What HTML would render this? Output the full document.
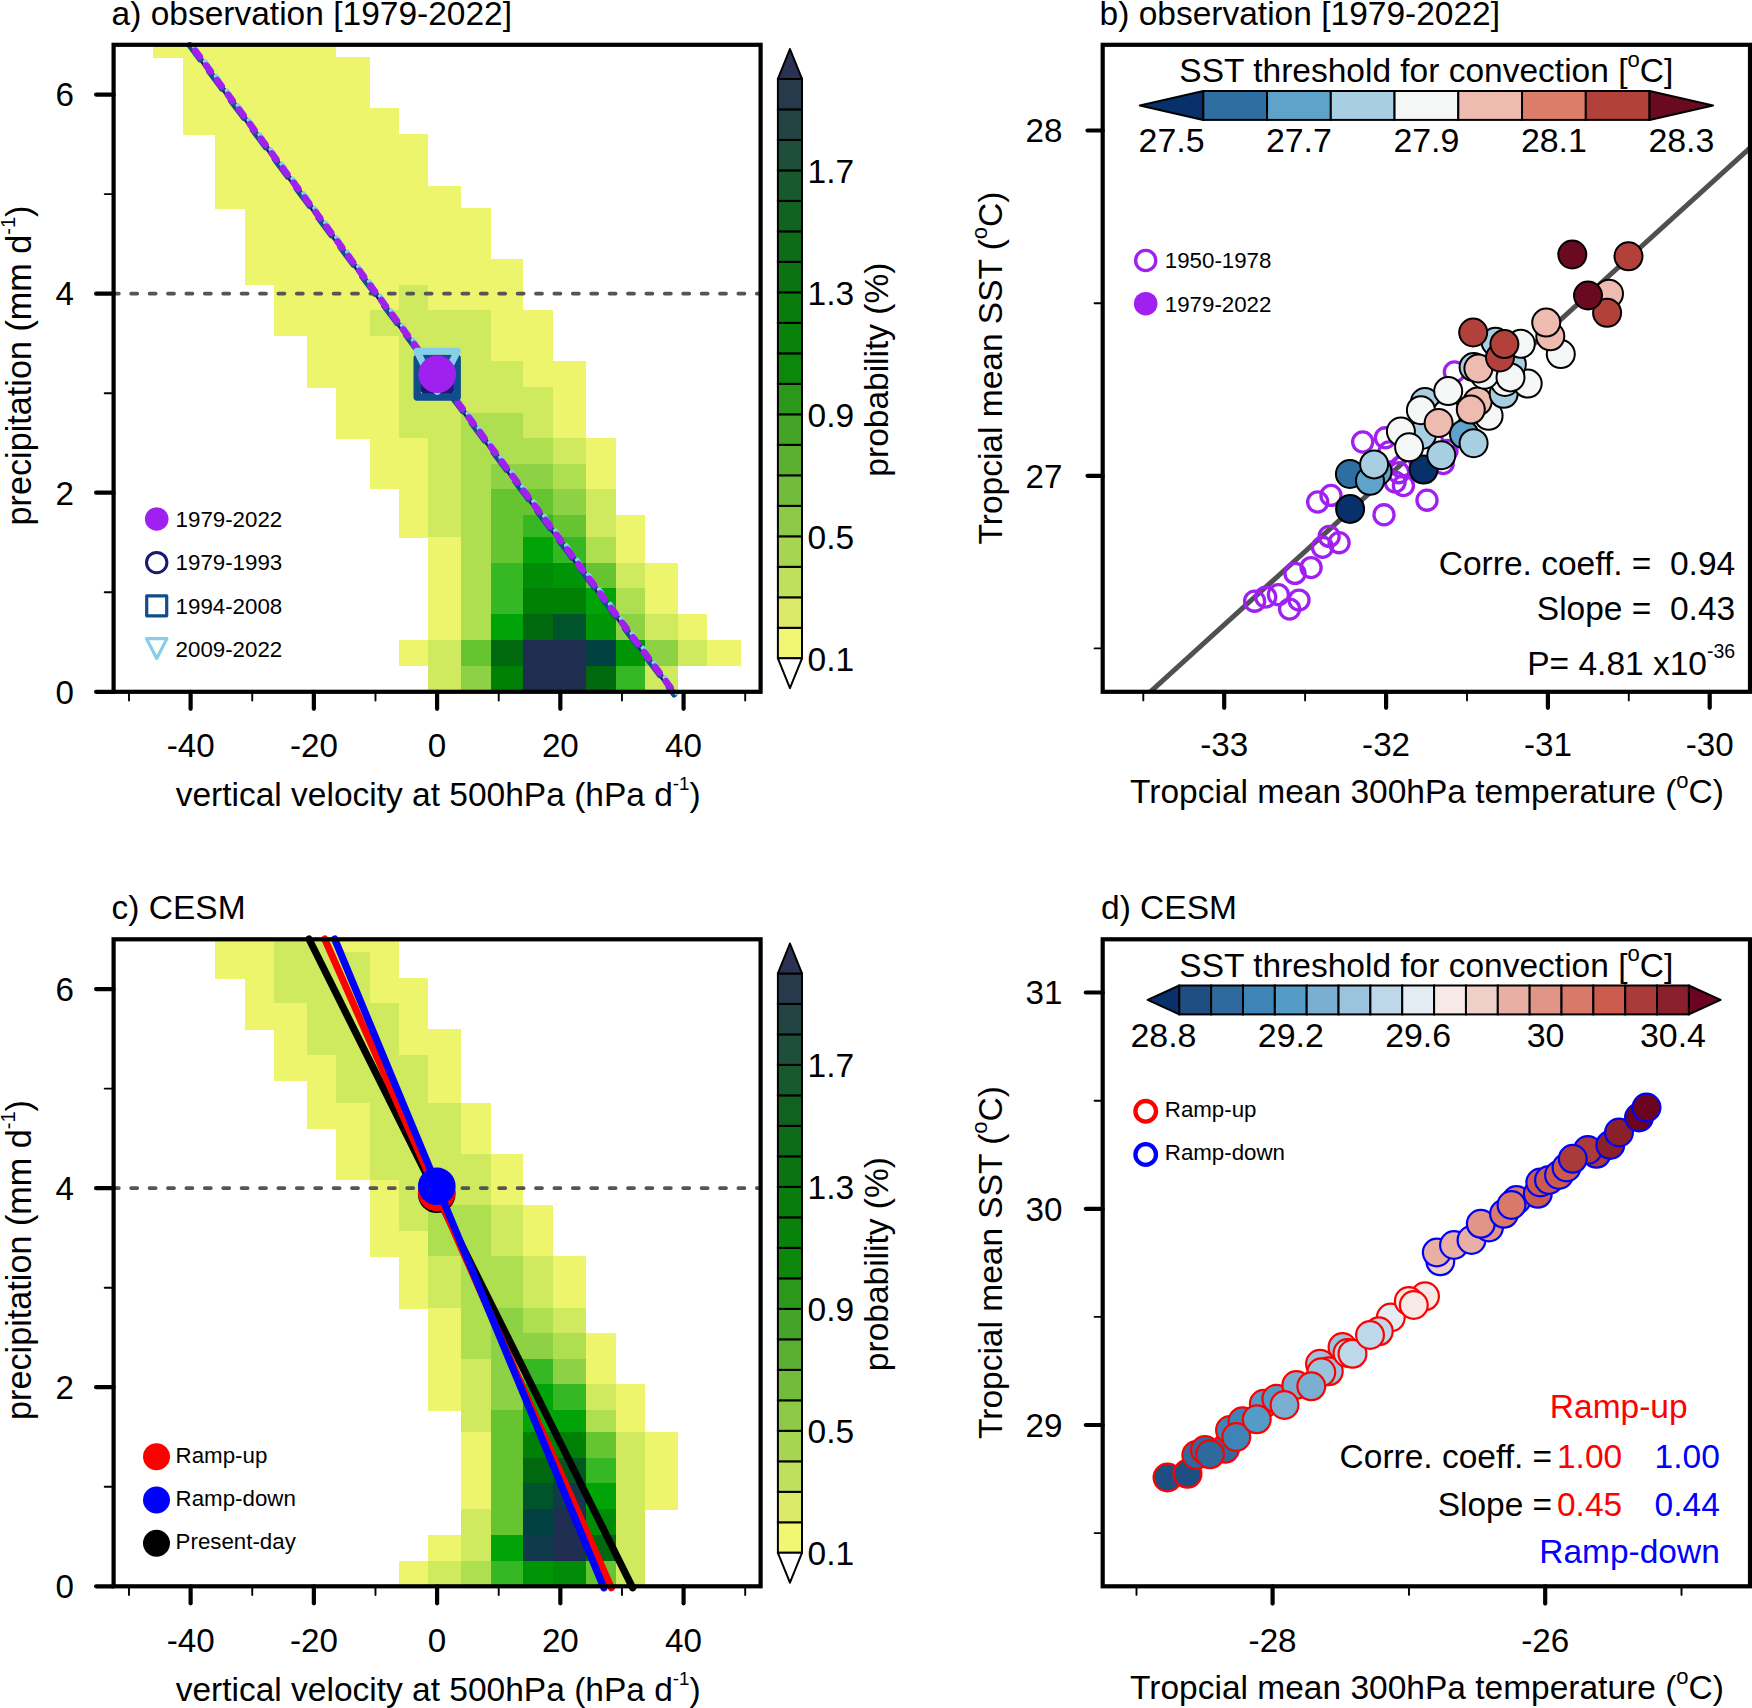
<!DOCTYPE html>
<html lang="en">
<head>
<meta charset="utf-8">
<title>Figure</title>
<style>
html,body{margin:0;padding:0;background:#fff;}
svg{display:block;}
text{font-family:"Liberation Sans", sans-serif;}
</style>
</head>
<body>
<svg width="1752" height="1708" viewBox="0 0 1752 1708">
<rect x="0" y="0" width="1752" height="1708" fill="#fff"/>
<g shape-rendering="crispEdges">
<rect x="152.50" y="45.00" width="183.75" height="12.60" fill="#edf56d"/>
<rect x="182.50" y="57.00" width="187.50" height="26.35" fill="#edf56d"/>
<rect x="182.50" y="82.75" width="187.50" height="25.85" fill="#edf56d"/>
<rect x="182.50" y="108.00" width="216.50" height="26.60" fill="#edf56d"/>
<rect x="215.00" y="134.00" width="213.00" height="26.60" fill="#edf56d"/>
<rect x="215.00" y="160.00" width="213.00" height="26.10" fill="#edf56d"/>
<rect x="215.00" y="185.50" width="246.00" height="23.10" fill="#edf56d"/>
<rect x="245.00" y="208.00" width="245.75" height="25.60" fill="#edf56d"/>
<rect x="245.00" y="233.00" width="245.75" height="26.60" fill="#edf56d"/>
<rect x="245.00" y="259.00" width="278.25" height="26.10" fill="#edf56d"/>
<rect x="274.25" y="284.50" width="124.75" height="26.10" fill="#edf56d"/>
<rect x="399.00" y="284.50" width="29.00" height="26.10" fill="#d0ea5f"/>
<rect x="428.00" y="284.50" width="95.25" height="26.10" fill="#edf56d"/>
<rect x="274.25" y="310.00" width="95.75" height="26.10" fill="#edf56d"/>
<rect x="370.00" y="310.00" width="120.75" height="26.10" fill="#d0ea5f"/>
<rect x="490.75" y="310.00" width="62.25" height="26.10" fill="#edf56d"/>
<rect x="307.00" y="335.50" width="92.00" height="26.10" fill="#edf56d"/>
<rect x="399.00" y="335.50" width="91.75" height="26.10" fill="#d0ea5f"/>
<rect x="490.75" y="335.50" width="62.25" height="26.10" fill="#edf56d"/>
<rect x="307.00" y="361.00" width="92.00" height="26.60" fill="#edf56d"/>
<rect x="399.00" y="361.00" width="124.25" height="26.60" fill="#d0ea5f"/>
<rect x="523.25" y="361.00" width="62.75" height="26.60" fill="#edf56d"/>
<rect x="336.25" y="387.00" width="62.75" height="26.35" fill="#edf56d"/>
<rect x="399.00" y="387.00" width="154.00" height="26.35" fill="#d0ea5f"/>
<rect x="553.00" y="387.00" width="33.00" height="26.35" fill="#edf56d"/>
<rect x="336.25" y="412.75" width="62.75" height="25.85" fill="#edf56d"/>
<rect x="399.00" y="412.75" width="62.00" height="25.85" fill="#d0ea5f"/>
<rect x="461.00" y="412.75" width="62.25" height="25.85" fill="#aedf50"/>
<rect x="523.25" y="412.75" width="29.75" height="25.85" fill="#d0ea5f"/>
<rect x="553.00" y="412.75" width="33.00" height="25.85" fill="#edf56d"/>
<rect x="370.00" y="438.00" width="58.00" height="26.35" fill="#edf56d"/>
<rect x="428.00" y="438.00" width="33.00" height="26.35" fill="#d0ea5f"/>
<rect x="461.00" y="438.00" width="92.00" height="26.35" fill="#aedf50"/>
<rect x="553.00" y="438.00" width="33.00" height="26.35" fill="#d0ea5f"/>
<rect x="586.00" y="438.00" width="29.50" height="26.35" fill="#edf56d"/>
<rect x="370.00" y="463.75" width="58.00" height="25.60" fill="#edf56d"/>
<rect x="428.00" y="463.75" width="33.00" height="25.60" fill="#d0ea5f"/>
<rect x="461.00" y="463.75" width="29.75" height="25.60" fill="#aedf50"/>
<rect x="490.75" y="463.75" width="62.25" height="25.60" fill="#8dd244"/>
<rect x="553.00" y="463.75" width="33.00" height="25.60" fill="#aedf50"/>
<rect x="586.00" y="463.75" width="29.50" height="25.60" fill="#edf56d"/>
<rect x="399.00" y="488.75" width="29.00" height="26.85" fill="#edf56d"/>
<rect x="428.00" y="488.75" width="33.00" height="26.85" fill="#d0ea5f"/>
<rect x="461.00" y="488.75" width="29.75" height="26.85" fill="#aedf50"/>
<rect x="490.75" y="488.75" width="62.25" height="26.85" fill="#66c431"/>
<rect x="553.00" y="488.75" width="33.00" height="26.85" fill="#8dd244"/>
<rect x="586.00" y="488.75" width="29.50" height="26.85" fill="#d0ea5f"/>
<rect x="399.00" y="515.00" width="29.00" height="22.60" fill="#edf56d"/>
<rect x="428.00" y="515.00" width="33.00" height="22.60" fill="#d0ea5f"/>
<rect x="461.00" y="515.00" width="29.75" height="22.60" fill="#aedf50"/>
<rect x="490.75" y="515.00" width="32.50" height="22.60" fill="#66c431"/>
<rect x="523.25" y="515.00" width="29.75" height="22.60" fill="#36b824"/>
<rect x="553.00" y="515.00" width="33.00" height="22.60" fill="#66c431"/>
<rect x="586.00" y="515.00" width="29.50" height="22.60" fill="#d0ea5f"/>
<rect x="615.50" y="515.00" width="29.50" height="22.60" fill="#edf56d"/>
<rect x="428.00" y="537.00" width="33.00" height="26.10" fill="#edf56d"/>
<rect x="461.00" y="537.00" width="29.75" height="26.10" fill="#aedf50"/>
<rect x="490.75" y="537.00" width="32.50" height="26.10" fill="#66c431"/>
<rect x="523.25" y="537.00" width="29.75" height="26.10" fill="#00a409"/>
<rect x="553.00" y="537.00" width="33.00" height="26.10" fill="#36b824"/>
<rect x="586.00" y="537.00" width="29.50" height="26.10" fill="#aedf50"/>
<rect x="615.50" y="537.00" width="29.50" height="26.10" fill="#edf56d"/>
<rect x="428.00" y="562.50" width="33.00" height="26.10" fill="#edf56d"/>
<rect x="461.00" y="562.50" width="29.75" height="26.10" fill="#aedf50"/>
<rect x="490.75" y="562.50" width="32.50" height="26.10" fill="#36b824"/>
<rect x="523.25" y="562.50" width="29.75" height="26.10" fill="#008c07"/>
<rect x="553.00" y="562.50" width="33.00" height="26.10" fill="#009407"/>
<rect x="586.00" y="562.50" width="29.50" height="26.10" fill="#66c431"/>
<rect x="615.50" y="562.50" width="29.50" height="26.10" fill="#d0ea5f"/>
<rect x="645.00" y="562.50" width="33.00" height="26.10" fill="#edf56d"/>
<rect x="428.00" y="588.00" width="33.00" height="26.85" fill="#edf56d"/>
<rect x="461.00" y="588.00" width="29.75" height="26.85" fill="#aedf50"/>
<rect x="490.75" y="588.00" width="32.50" height="26.85" fill="#36b824"/>
<rect x="523.25" y="588.00" width="62.75" height="26.85" fill="#008106"/>
<rect x="586.00" y="588.00" width="29.50" height="26.85" fill="#00a409"/>
<rect x="615.50" y="588.00" width="29.50" height="26.85" fill="#aedf50"/>
<rect x="645.00" y="588.00" width="33.00" height="26.85" fill="#edf56d"/>
<rect x="428.00" y="614.25" width="33.00" height="26.35" fill="#edf56d"/>
<rect x="461.00" y="614.25" width="29.75" height="26.35" fill="#aedf50"/>
<rect x="490.75" y="614.25" width="32.50" height="26.35" fill="#00a409"/>
<rect x="523.25" y="614.25" width="29.75" height="26.35" fill="#00680f"/>
<rect x="553.00" y="614.25" width="33.00" height="26.35" fill="#00542b"/>
<rect x="586.00" y="614.25" width="29.50" height="26.35" fill="#009407"/>
<rect x="615.50" y="614.25" width="29.50" height="26.35" fill="#8dd244"/>
<rect x="645.00" y="614.25" width="33.00" height="26.35" fill="#d0ea5f"/>
<rect x="678.00" y="614.25" width="29.00" height="26.35" fill="#edf56d"/>
<rect x="399.00" y="640.00" width="29.00" height="26.35" fill="#edf56d"/>
<rect x="428.00" y="640.00" width="33.00" height="26.35" fill="#d0ea5f"/>
<rect x="461.00" y="640.00" width="29.75" height="26.35" fill="#66c431"/>
<rect x="490.75" y="640.00" width="32.50" height="26.35" fill="#00680f"/>
<rect x="523.25" y="640.00" width="62.75" height="26.35" fill="#1f2d50"/>
<rect x="586.00" y="640.00" width="29.50" height="26.35" fill="#004041"/>
<rect x="615.50" y="640.00" width="29.50" height="26.35" fill="#009407"/>
<rect x="645.00" y="640.00" width="33.00" height="26.35" fill="#8dd244"/>
<rect x="678.00" y="640.00" width="29.00" height="26.35" fill="#d0ea5f"/>
<rect x="707.00" y="640.00" width="33.75" height="26.35" fill="#edf56d"/>
<rect x="428.00" y="665.75" width="33.00" height="25.85" fill="#d0ea5f"/>
<rect x="461.00" y="665.75" width="29.75" height="25.85" fill="#8dd244"/>
<rect x="490.75" y="665.75" width="32.50" height="25.85" fill="#008106"/>
<rect x="523.25" y="665.75" width="62.75" height="25.85" fill="#1f2d50"/>
<rect x="586.00" y="665.75" width="29.50" height="25.85" fill="#00680f"/>
<rect x="615.50" y="665.75" width="29.50" height="25.85" fill="#36b824"/>
<rect x="645.00" y="665.75" width="33.00" height="25.85" fill="#d0ea5f"/>
</g>
<line x1="112.7" y1="293.64" x2="759.6" y2="293.64" stroke="#555" stroke-width="3.6" stroke-dasharray="6.2 12.2" stroke-linecap="round"/>
<line x1="189.90" y1="44.50" x2="674.90" y2="694.30" stroke="#191970" stroke-width="4.8" stroke-linecap="round"/>
<line x1="189.10" y1="45.10" x2="674.10" y2="694.90" stroke="#104e8b" stroke-width="5.4" stroke-linecap="round" stroke-dasharray="22 14.6" stroke-dashoffset="4"/>
<line x1="191.58" y1="43.24" x2="676.58" y2="693.04" stroke="#87ceeb" stroke-width="4.6" stroke-linecap="round" stroke-dasharray="4.5 13.8" stroke-dashoffset="14.0"/>
<line x1="190.30" y1="44.20" x2="675.30" y2="694.00" stroke="#a020f0" stroke-width="6.8" stroke-linecap="round" stroke-dasharray="7.5 10.8" stroke-dashoffset="10"/>
<circle cx="437.2" cy="377.6" r="17" fill="none" stroke="#191970" stroke-width="9"/>
<rect x="417.2" y="358.20000000000005" width="40" height="38.8" fill="none" stroke="#104e8b" stroke-width="7.4" stroke-linejoin="round"/>
<polygon points="417.0,351.2 457.4,351.2 437.2,391.4" fill="none" stroke="#87ceeb" stroke-width="7" stroke-linejoin="round"/>
<circle cx="437.2" cy="374.3" r="18.8" fill="#a020f0"/>
<rect x="113.6" y="44.8" width="647.0" height="647.0" fill="none" stroke="#000" stroke-width="4.2"/>
<line x1="190.62000000000003" y1="691.8" x2="190.62000000000003" y2="708.8" stroke="#000" stroke-width="4.2" stroke-linecap="round"/>
<line x1="313.86" y1="691.8" x2="313.86" y2="708.8" stroke="#000" stroke-width="4.2" stroke-linecap="round"/>
<line x1="437.1" y1="691.8" x2="437.1" y2="708.8" stroke="#000" stroke-width="4.2" stroke-linecap="round"/>
<line x1="560.34" y1="691.8" x2="560.34" y2="708.8" stroke="#000" stroke-width="4.2" stroke-linecap="round"/>
<line x1="683.58" y1="691.8" x2="683.58" y2="708.8" stroke="#000" stroke-width="4.2" stroke-linecap="round"/>
<line x1="129.0" y1="691.8" x2="129.0" y2="700.5" stroke="#000" stroke-width="1.9" stroke-linecap="round"/>
<line x1="252.24000000000004" y1="691.8" x2="252.24000000000004" y2="700.5" stroke="#000" stroke-width="1.9" stroke-linecap="round"/>
<line x1="375.48" y1="691.8" x2="375.48" y2="700.5" stroke="#000" stroke-width="1.9" stroke-linecap="round"/>
<line x1="498.72" y1="691.8" x2="498.72" y2="700.5" stroke="#000" stroke-width="1.9" stroke-linecap="round"/>
<line x1="621.96" y1="691.8" x2="621.96" y2="700.5" stroke="#000" stroke-width="1.9" stroke-linecap="round"/>
<line x1="745.2" y1="691.8" x2="745.2" y2="700.5" stroke="#000" stroke-width="1.9" stroke-linecap="round"/>
<text x="190.62000000000003" y="757" font-size="33.2" text-anchor="middle" fill="#000" >-40</text>
<text x="313.86" y="757" font-size="33.2" text-anchor="middle" fill="#000" >-20</text>
<text x="437.1" y="757" font-size="33.2" text-anchor="middle" fill="#000" >0</text>
<text x="560.34" y="757" font-size="33.2" text-anchor="middle" fill="#000" >20</text>
<text x="683.58" y="757" font-size="33.2" text-anchor="middle" fill="#000" >40</text>
<line x1="113.6" y1="691.8" x2="96.1" y2="691.8" stroke="#000" stroke-width="4.2" stroke-linecap="round"/>
<line x1="113.6" y1="492.7199999999999" x2="96.1" y2="492.7199999999999" stroke="#000" stroke-width="4.2" stroke-linecap="round"/>
<line x1="113.6" y1="293.63999999999993" x2="96.1" y2="293.63999999999993" stroke="#000" stroke-width="4.2" stroke-linecap="round"/>
<line x1="113.6" y1="94.55999999999995" x2="96.1" y2="94.55999999999995" stroke="#000" stroke-width="4.2" stroke-linecap="round"/>
<line x1="113.6" y1="592.26" x2="104.69999999999999" y2="592.26" stroke="#000" stroke-width="1.9" stroke-linecap="round"/>
<line x1="113.6" y1="393.17999999999995" x2="104.69999999999999" y2="393.17999999999995" stroke="#000" stroke-width="1.9" stroke-linecap="round"/>
<line x1="113.6" y1="194.0999999999999" x2="104.69999999999999" y2="194.0999999999999" stroke="#000" stroke-width="1.9" stroke-linecap="round"/>
<text x="74" y="703.5999999999999" font-size="33.2" text-anchor="end" fill="#000" >0</text>
<text x="74" y="504.5199999999999" font-size="33.2" text-anchor="end" fill="#000" >2</text>
<text x="74" y="305.43999999999994" font-size="33.2" text-anchor="end" fill="#000" >4</text>
<text x="74" y="106.35999999999994" font-size="33.2" text-anchor="end" fill="#000" >6</text>
<text x="111.6" y="24.5" font-size="33.5" text-anchor="start" fill="#000" >a) observation [1979-2022]</text>
<text x="438.2" y="805.8" font-size="33.5" text-anchor="middle" fill="#000" >vertical velocity at 500hPa (hPa d<tspan font-size="18.8" dy="-15.9">-1</tspan><tspan dy="15.9" font-size="33.5">)</tspan></text>
<text transform="translate(31.2,365.5) rotate(-90)" font-size="34.2" text-anchor="middle">precipitation (mm d<tspan font-size="20" dy="-16">-1</tspan><tspan dy="16" font-size="34.2">)</tspan></text>
<rect x="777.9" y="627.81" width="24.100000000000023" height="30.49" fill="#f1f673" stroke="#000" stroke-width="2"/>
<rect x="777.9" y="597.31" width="24.100000000000023" height="30.49" fill="#dcea69" stroke="#000" stroke-width="2"/>
<rect x="777.9" y="566.82" width="24.100000000000023" height="30.49" fill="#bfe05d" stroke="#000" stroke-width="2"/>
<rect x="777.9" y="536.32" width="24.100000000000023" height="30.49" fill="#a6d551" stroke="#000" stroke-width="2"/>
<rect x="777.9" y="505.83" width="24.100000000000023" height="30.49" fill="#8cc946" stroke="#000" stroke-width="2"/>
<rect x="777.9" y="475.33" width="24.100000000000023" height="30.49" fill="#73bc3b" stroke="#000" stroke-width="2"/>
<rect x="777.9" y="444.84" width="24.100000000000023" height="30.49" fill="#5bb031" stroke="#000" stroke-width="2"/>
<rect x="777.9" y="414.34" width="24.100000000000023" height="30.49" fill="#43a427" stroke="#000" stroke-width="2"/>
<rect x="777.9" y="383.85" width="24.100000000000023" height="30.49" fill="#2b981c" stroke="#000" stroke-width="2"/>
<rect x="777.9" y="353.35" width="24.100000000000023" height="30.49" fill="#0c870c" stroke="#000" stroke-width="2"/>
<rect x="777.9" y="322.86" width="24.100000000000023" height="30.49" fill="#08820a" stroke="#000" stroke-width="2"/>
<rect x="777.9" y="292.36" width="24.100000000000023" height="30.49" fill="#0a7c0e" stroke="#000" stroke-width="2"/>
<rect x="777.9" y="261.87" width="24.100000000000023" height="30.49" fill="#0c7312" stroke="#000" stroke-width="2"/>
<rect x="777.9" y="231.37" width="24.100000000000023" height="30.49" fill="#0e6b17" stroke="#000" stroke-width="2"/>
<rect x="777.9" y="200.88" width="24.100000000000023" height="30.49" fill="#12621f" stroke="#000" stroke-width="2"/>
<rect x="777.9" y="170.38" width="24.100000000000023" height="30.49" fill="#175a2b" stroke="#000" stroke-width="2"/>
<rect x="777.9" y="139.89" width="24.100000000000023" height="30.49" fill="#1d4f3a" stroke="#000" stroke-width="2"/>
<rect x="777.9" y="109.39" width="24.100000000000023" height="30.49" fill="#224544" stroke="#000" stroke-width="2"/>
<rect x="777.9" y="78.90" width="24.100000000000023" height="30.49" fill="#263a4b" stroke="#000" stroke-width="2"/>
<polygon points="777.9,78.9 802.0,78.9 789.95,49.00000000000001" fill="#2a3253" stroke="#000" stroke-width="2" stroke-linejoin="round"/>
<polygon points="777.9,658.3 802.0,658.3 789.95,688.1999999999999" fill="#fff" stroke="#000" stroke-width="2" stroke-linejoin="round"/>
<text x="807.6" y="670.50" font-size="33.5" text-anchor="start" fill="#000" >0.1</text>
<text x="807.6" y="548.52" font-size="33.5" text-anchor="start" fill="#000" >0.5</text>
<text x="807.6" y="426.54" font-size="33.5" text-anchor="start" fill="#000" >0.9</text>
<text x="807.6" y="304.56" font-size="33.5" text-anchor="start" fill="#000" >1.3</text>
<text x="807.6" y="182.58" font-size="33.5" text-anchor="start" fill="#000" >1.7</text>
<text transform="translate(887.6,369.59999999999997) rotate(-90)" font-size="33.5" text-anchor="middle">probability (%)</text>
<circle cx="156.7" cy="519" r="11.8" fill="#a020f0"/>
<circle cx="156.7" cy="562.6" r="10.2" fill="none" stroke="#191970" stroke-width="3"/>
<rect x="146.7" y="595.8" width="20" height="20" fill="none" stroke="#104e8b" stroke-width="3.2" stroke-linejoin="round"/>
<polygon points="146.39999999999998,638.6 167.0,638.6 156.7,658.4" fill="none" stroke="#87ceeb" stroke-width="3.2" stroke-linejoin="round"/>
<text x="175.6" y="527" font-size="22.3" text-anchor="start" fill="#000" >1979-2022</text>
<text x="175.6" y="570.4" font-size="22.3" text-anchor="start" fill="#000" >1979-1993</text>
<text x="175.6" y="613.6" font-size="22.3" text-anchor="start" fill="#000" >1994-2008</text>
<text x="175.6" y="656.8" font-size="22.3" text-anchor="start" fill="#000" >2009-2022</text>
<g shape-rendering="crispEdges">
<rect x="215.00" y="940.20" width="59.25" height="12.60" fill="#edf56d"/>
<rect x="274.25" y="940.20" width="62.00" height="12.60" fill="#d0ea5f"/>
<rect x="336.25" y="940.20" width="62.75" height="12.60" fill="#edf56d"/>
<rect x="215.00" y="952.20" width="59.25" height="26.35" fill="#edf56d"/>
<rect x="274.25" y="952.20" width="95.75" height="26.35" fill="#d0ea5f"/>
<rect x="370.00" y="952.20" width="29.00" height="26.35" fill="#edf56d"/>
<rect x="245.00" y="977.95" width="29.25" height="25.85" fill="#edf56d"/>
<rect x="274.25" y="977.95" width="95.75" height="25.85" fill="#d0ea5f"/>
<rect x="370.00" y="977.95" width="58.00" height="25.85" fill="#edf56d"/>
<rect x="245.00" y="1003.20" width="62.00" height="26.60" fill="#edf56d"/>
<rect x="307.00" y="1003.20" width="92.00" height="26.60" fill="#d0ea5f"/>
<rect x="399.00" y="1003.20" width="29.00" height="26.60" fill="#edf56d"/>
<rect x="274.25" y="1029.20" width="32.75" height="26.60" fill="#edf56d"/>
<rect x="307.00" y="1029.20" width="92.00" height="26.60" fill="#d0ea5f"/>
<rect x="399.00" y="1029.20" width="62.00" height="26.60" fill="#edf56d"/>
<rect x="274.25" y="1055.20" width="62.00" height="26.10" fill="#edf56d"/>
<rect x="336.25" y="1055.20" width="91.75" height="26.10" fill="#d0ea5f"/>
<rect x="428.00" y="1055.20" width="33.00" height="26.10" fill="#edf56d"/>
<rect x="307.00" y="1080.70" width="29.25" height="23.10" fill="#edf56d"/>
<rect x="336.25" y="1080.70" width="91.75" height="23.10" fill="#d0ea5f"/>
<rect x="428.00" y="1080.70" width="33.00" height="23.10" fill="#edf56d"/>
<rect x="307.00" y="1103.20" width="63.00" height="25.60" fill="#edf56d"/>
<rect x="370.00" y="1103.20" width="91.00" height="25.60" fill="#d0ea5f"/>
<rect x="461.00" y="1103.20" width="29.75" height="25.60" fill="#edf56d"/>
<rect x="336.25" y="1128.20" width="33.75" height="26.60" fill="#edf56d"/>
<rect x="370.00" y="1128.20" width="91.00" height="26.60" fill="#d0ea5f"/>
<rect x="461.00" y="1128.20" width="29.75" height="26.60" fill="#edf56d"/>
<rect x="336.25" y="1154.20" width="33.75" height="26.10" fill="#edf56d"/>
<rect x="370.00" y="1154.20" width="120.75" height="26.10" fill="#d0ea5f"/>
<rect x="490.75" y="1154.20" width="32.50" height="26.10" fill="#edf56d"/>
<rect x="370.00" y="1179.70" width="29.00" height="26.10" fill="#edf56d"/>
<rect x="399.00" y="1179.70" width="91.75" height="26.10" fill="#d0ea5f"/>
<rect x="490.75" y="1179.70" width="32.50" height="26.10" fill="#edf56d"/>
<rect x="370.00" y="1205.20" width="29.00" height="26.10" fill="#edf56d"/>
<rect x="399.00" y="1205.20" width="29.00" height="26.10" fill="#d0ea5f"/>
<rect x="428.00" y="1205.20" width="62.75" height="26.10" fill="#aedf50"/>
<rect x="490.75" y="1205.20" width="32.50" height="26.10" fill="#d0ea5f"/>
<rect x="523.25" y="1205.20" width="29.75" height="26.10" fill="#edf56d"/>
<rect x="370.00" y="1230.70" width="58.00" height="26.10" fill="#edf56d"/>
<rect x="428.00" y="1230.70" width="62.75" height="26.10" fill="#aedf50"/>
<rect x="490.75" y="1230.70" width="32.50" height="26.10" fill="#d0ea5f"/>
<rect x="523.25" y="1230.70" width="29.75" height="26.10" fill="#edf56d"/>
<rect x="399.00" y="1256.20" width="29.00" height="26.60" fill="#edf56d"/>
<rect x="428.00" y="1256.20" width="33.00" height="26.60" fill="#d0ea5f"/>
<rect x="461.00" y="1256.20" width="62.25" height="26.60" fill="#aedf50"/>
<rect x="523.25" y="1256.20" width="29.75" height="26.60" fill="#d0ea5f"/>
<rect x="553.00" y="1256.20" width="33.00" height="26.60" fill="#edf56d"/>
<rect x="399.00" y="1282.20" width="29.00" height="26.35" fill="#edf56d"/>
<rect x="428.00" y="1282.20" width="33.00" height="26.35" fill="#d0ea5f"/>
<rect x="461.00" y="1282.20" width="62.25" height="26.35" fill="#aedf50"/>
<rect x="523.25" y="1282.20" width="29.75" height="26.35" fill="#d0ea5f"/>
<rect x="553.00" y="1282.20" width="33.00" height="26.35" fill="#edf56d"/>
<rect x="428.00" y="1307.95" width="33.00" height="25.85" fill="#edf56d"/>
<rect x="461.00" y="1307.95" width="29.75" height="25.85" fill="#aedf50"/>
<rect x="490.75" y="1307.95" width="32.50" height="25.85" fill="#8dd244"/>
<rect x="523.25" y="1307.95" width="29.75" height="25.85" fill="#aedf50"/>
<rect x="553.00" y="1307.95" width="33.00" height="25.85" fill="#d0ea5f"/>
<rect x="428.00" y="1333.20" width="33.00" height="26.35" fill="#edf56d"/>
<rect x="461.00" y="1333.20" width="29.75" height="26.35" fill="#aedf50"/>
<rect x="490.75" y="1333.20" width="62.25" height="26.35" fill="#8dd244"/>
<rect x="553.00" y="1333.20" width="33.00" height="26.35" fill="#aedf50"/>
<rect x="586.00" y="1333.20" width="29.50" height="26.35" fill="#edf56d"/>
<rect x="428.00" y="1358.95" width="33.00" height="25.60" fill="#edf56d"/>
<rect x="461.00" y="1358.95" width="29.75" height="25.60" fill="#d0ea5f"/>
<rect x="490.75" y="1358.95" width="32.50" height="25.60" fill="#8dd244"/>
<rect x="523.25" y="1358.95" width="29.75" height="25.60" fill="#36b824"/>
<rect x="553.00" y="1358.95" width="33.00" height="25.60" fill="#8dd244"/>
<rect x="586.00" y="1358.95" width="29.50" height="25.60" fill="#edf56d"/>
<rect x="428.00" y="1383.95" width="33.00" height="26.85" fill="#edf56d"/>
<rect x="461.00" y="1383.95" width="29.75" height="26.85" fill="#d0ea5f"/>
<rect x="490.75" y="1383.95" width="32.50" height="26.85" fill="#8dd244"/>
<rect x="523.25" y="1383.95" width="29.75" height="26.85" fill="#00a409"/>
<rect x="553.00" y="1383.95" width="33.00" height="26.85" fill="#36b824"/>
<rect x="586.00" y="1383.95" width="29.50" height="26.85" fill="#d0ea5f"/>
<rect x="615.50" y="1383.95" width="29.50" height="26.85" fill="#edf56d"/>
<rect x="461.00" y="1410.20" width="29.75" height="22.60" fill="#d0ea5f"/>
<rect x="490.75" y="1410.20" width="32.50" height="22.60" fill="#66c431"/>
<rect x="523.25" y="1410.20" width="62.75" height="22.60" fill="#00a409"/>
<rect x="586.00" y="1410.20" width="29.50" height="22.60" fill="#aedf50"/>
<rect x="615.50" y="1410.20" width="29.50" height="22.60" fill="#edf56d"/>
<rect x="461.00" y="1432.20" width="29.75" height="26.10" fill="#edf56d"/>
<rect x="490.75" y="1432.20" width="32.50" height="26.10" fill="#66c431"/>
<rect x="523.25" y="1432.20" width="62.75" height="26.10" fill="#008106"/>
<rect x="586.00" y="1432.20" width="29.50" height="26.10" fill="#66c431"/>
<rect x="615.50" y="1432.20" width="29.50" height="26.10" fill="#d0ea5f"/>
<rect x="645.00" y="1432.20" width="33.00" height="26.10" fill="#edf56d"/>
<rect x="461.00" y="1457.70" width="29.75" height="26.10" fill="#edf56d"/>
<rect x="490.75" y="1457.70" width="32.50" height="26.10" fill="#66c431"/>
<rect x="523.25" y="1457.70" width="29.75" height="26.10" fill="#00680f"/>
<rect x="553.00" y="1457.70" width="33.00" height="26.10" fill="#005a20"/>
<rect x="586.00" y="1457.70" width="29.50" height="26.10" fill="#36b824"/>
<rect x="615.50" y="1457.70" width="29.50" height="26.10" fill="#d0ea5f"/>
<rect x="645.00" y="1457.70" width="33.00" height="26.10" fill="#edf56d"/>
<rect x="461.00" y="1483.20" width="29.75" height="26.85" fill="#edf56d"/>
<rect x="490.75" y="1483.20" width="32.50" height="26.85" fill="#66c431"/>
<rect x="523.25" y="1483.20" width="29.75" height="26.85" fill="#00542b"/>
<rect x="553.00" y="1483.20" width="33.00" height="26.85" fill="#123a4a"/>
<rect x="586.00" y="1483.20" width="29.50" height="26.85" fill="#00a409"/>
<rect x="615.50" y="1483.20" width="29.50" height="26.85" fill="#d0ea5f"/>
<rect x="645.00" y="1483.20" width="33.00" height="26.85" fill="#edf56d"/>
<rect x="461.00" y="1509.45" width="29.75" height="26.35" fill="#d0ea5f"/>
<rect x="490.75" y="1509.45" width="32.50" height="26.35" fill="#66c431"/>
<rect x="523.25" y="1509.45" width="29.75" height="26.35" fill="#004041"/>
<rect x="553.00" y="1509.45" width="33.00" height="26.35" fill="#1f2d50"/>
<rect x="586.00" y="1509.45" width="29.50" height="26.35" fill="#008c07"/>
<rect x="615.50" y="1509.45" width="29.50" height="26.35" fill="#d0ea5f"/>
<rect x="428.00" y="1535.20" width="33.00" height="26.35" fill="#edf56d"/>
<rect x="461.00" y="1535.20" width="29.75" height="26.35" fill="#d0ea5f"/>
<rect x="490.75" y="1535.20" width="32.50" height="26.35" fill="#00a409"/>
<rect x="523.25" y="1535.20" width="29.75" height="26.35" fill="#0f3a4c"/>
<rect x="553.00" y="1535.20" width="33.00" height="26.35" fill="#1f2d50"/>
<rect x="586.00" y="1535.20" width="29.50" height="26.35" fill="#00680f"/>
<rect x="615.50" y="1535.20" width="29.50" height="26.35" fill="#d0ea5f"/>
<rect x="399.00" y="1560.95" width="29.00" height="25.85" fill="#edf56d"/>
<rect x="428.00" y="1560.95" width="33.00" height="25.85" fill="#d0ea5f"/>
<rect x="461.00" y="1560.95" width="29.75" height="25.85" fill="#aedf50"/>
<rect x="490.75" y="1560.95" width="32.50" height="25.85" fill="#36b824"/>
<rect x="523.25" y="1560.95" width="29.75" height="25.85" fill="#009407"/>
<rect x="553.00" y="1560.95" width="33.00" height="25.85" fill="#008c07"/>
<rect x="586.00" y="1560.95" width="29.50" height="25.85" fill="#66c431"/>
<rect x="615.50" y="1560.95" width="29.50" height="25.85" fill="#d0ea5f"/>
</g>
<line x1="112.7" y1="1188.14" x2="759.6" y2="1188.14" stroke="#555" stroke-width="3.6" stroke-dasharray="6.2 12.2" stroke-linecap="round"/>
<line x1="309.00" y1="939.00" x2="632.70" y2="1587.80" stroke="#000" stroke-width="7.2" stroke-linecap="round"/>
<circle cx="436.7" cy="1194.3" r="18.8" fill="#000"/>
<line x1="324.70" y1="939.00" x2="611.40" y2="1587.80" stroke="#f00" stroke-width="7.0" stroke-linecap="round"/>
<circle cx="436.7" cy="1192.4" r="18.8" fill="#f00"/>
<line x1="334.70" y1="939.00" x2="603.90" y2="1587.80" stroke="#00f" stroke-width="7.2" stroke-linecap="round"/>
<circle cx="436.8" cy="1186.3" r="18.8" fill="#00f"/>
<rect x="113.6" y="939.3" width="647.0" height="647.0" fill="none" stroke="#000" stroke-width="4.2"/>
<line x1="190.62000000000003" y1="1586.3" x2="190.62000000000003" y2="1603.3" stroke="#000" stroke-width="4.2" stroke-linecap="round"/>
<line x1="313.86" y1="1586.3" x2="313.86" y2="1603.3" stroke="#000" stroke-width="4.2" stroke-linecap="round"/>
<line x1="437.1" y1="1586.3" x2="437.1" y2="1603.3" stroke="#000" stroke-width="4.2" stroke-linecap="round"/>
<line x1="560.34" y1="1586.3" x2="560.34" y2="1603.3" stroke="#000" stroke-width="4.2" stroke-linecap="round"/>
<line x1="683.58" y1="1586.3" x2="683.58" y2="1603.3" stroke="#000" stroke-width="4.2" stroke-linecap="round"/>
<line x1="129.0" y1="1586.3" x2="129.0" y2="1595.0" stroke="#000" stroke-width="1.9" stroke-linecap="round"/>
<line x1="252.24000000000004" y1="1586.3" x2="252.24000000000004" y2="1595.0" stroke="#000" stroke-width="1.9" stroke-linecap="round"/>
<line x1="375.48" y1="1586.3" x2="375.48" y2="1595.0" stroke="#000" stroke-width="1.9" stroke-linecap="round"/>
<line x1="498.72" y1="1586.3" x2="498.72" y2="1595.0" stroke="#000" stroke-width="1.9" stroke-linecap="round"/>
<line x1="621.96" y1="1586.3" x2="621.96" y2="1595.0" stroke="#000" stroke-width="1.9" stroke-linecap="round"/>
<line x1="745.2" y1="1586.3" x2="745.2" y2="1595.0" stroke="#000" stroke-width="1.9" stroke-linecap="round"/>
<text x="190.62000000000003" y="1652.1" font-size="33.2" text-anchor="middle" fill="#000" >-40</text>
<text x="313.86" y="1652.1" font-size="33.2" text-anchor="middle" fill="#000" >-20</text>
<text x="437.1" y="1652.1" font-size="33.2" text-anchor="middle" fill="#000" >0</text>
<text x="560.34" y="1652.1" font-size="33.2" text-anchor="middle" fill="#000" >20</text>
<text x="683.58" y="1652.1" font-size="33.2" text-anchor="middle" fill="#000" >40</text>
<line x1="113.6" y1="1586.3" x2="96.1" y2="1586.3" stroke="#000" stroke-width="4.2" stroke-linecap="round"/>
<line x1="113.6" y1="1387.2199999999998" x2="96.1" y2="1387.2199999999998" stroke="#000" stroke-width="4.2" stroke-linecap="round"/>
<line x1="113.6" y1="1188.1399999999999" x2="96.1" y2="1188.1399999999999" stroke="#000" stroke-width="4.2" stroke-linecap="round"/>
<line x1="113.6" y1="989.06" x2="96.1" y2="989.06" stroke="#000" stroke-width="4.2" stroke-linecap="round"/>
<line x1="113.6" y1="1486.76" x2="104.69999999999999" y2="1486.76" stroke="#000" stroke-width="1.9" stroke-linecap="round"/>
<line x1="113.6" y1="1287.6799999999998" x2="104.69999999999999" y2="1287.6799999999998" stroke="#000" stroke-width="1.9" stroke-linecap="round"/>
<line x1="113.6" y1="1088.6" x2="104.69999999999999" y2="1088.6" stroke="#000" stroke-width="1.9" stroke-linecap="round"/>
<text x="74" y="1598.1" font-size="33.2" text-anchor="end" fill="#000" >0</text>
<text x="74" y="1399.0199999999998" font-size="33.2" text-anchor="end" fill="#000" >2</text>
<text x="74" y="1199.9399999999998" font-size="33.2" text-anchor="end" fill="#000" >4</text>
<text x="74" y="1000.8599999999999" font-size="33.2" text-anchor="end" fill="#000" >6</text>
<text x="111.6" y="919.3" font-size="33.5" text-anchor="start" fill="#000" >c) CESM</text>
<text x="438.2" y="1700.9" font-size="33.5" text-anchor="middle" fill="#000" >vertical velocity at 500hPa (hPa d<tspan font-size="18.8" dy="-15.9">-1</tspan><tspan dy="15.9" font-size="33.5">)</tspan></text>
<text transform="translate(31.2,1260.0) rotate(-90)" font-size="34.2" text-anchor="middle">precipitation (mm d<tspan font-size="20" dy="-16">-1</tspan><tspan dy="16" font-size="34.2">)</tspan></text>
<rect x="777.9" y="1522.31" width="24.100000000000023" height="30.49" fill="#f1f673" stroke="#000" stroke-width="2"/>
<rect x="777.9" y="1491.81" width="24.100000000000023" height="30.49" fill="#dcea69" stroke="#000" stroke-width="2"/>
<rect x="777.9" y="1461.32" width="24.100000000000023" height="30.49" fill="#bfe05d" stroke="#000" stroke-width="2"/>
<rect x="777.9" y="1430.82" width="24.100000000000023" height="30.49" fill="#a6d551" stroke="#000" stroke-width="2"/>
<rect x="777.9" y="1400.33" width="24.100000000000023" height="30.49" fill="#8cc946" stroke="#000" stroke-width="2"/>
<rect x="777.9" y="1369.83" width="24.100000000000023" height="30.49" fill="#73bc3b" stroke="#000" stroke-width="2"/>
<rect x="777.9" y="1339.34" width="24.100000000000023" height="30.49" fill="#5bb031" stroke="#000" stroke-width="2"/>
<rect x="777.9" y="1308.84" width="24.100000000000023" height="30.49" fill="#43a427" stroke="#000" stroke-width="2"/>
<rect x="777.9" y="1278.35" width="24.100000000000023" height="30.49" fill="#2b981c" stroke="#000" stroke-width="2"/>
<rect x="777.9" y="1247.85" width="24.100000000000023" height="30.49" fill="#0c870c" stroke="#000" stroke-width="2"/>
<rect x="777.9" y="1217.36" width="24.100000000000023" height="30.49" fill="#08820a" stroke="#000" stroke-width="2"/>
<rect x="777.9" y="1186.86" width="24.100000000000023" height="30.49" fill="#0a7c0e" stroke="#000" stroke-width="2"/>
<rect x="777.9" y="1156.37" width="24.100000000000023" height="30.49" fill="#0c7312" stroke="#000" stroke-width="2"/>
<rect x="777.9" y="1125.87" width="24.100000000000023" height="30.49" fill="#0e6b17" stroke="#000" stroke-width="2"/>
<rect x="777.9" y="1095.38" width="24.100000000000023" height="30.49" fill="#12621f" stroke="#000" stroke-width="2"/>
<rect x="777.9" y="1064.88" width="24.100000000000023" height="30.49" fill="#175a2b" stroke="#000" stroke-width="2"/>
<rect x="777.9" y="1034.39" width="24.100000000000023" height="30.49" fill="#1d4f3a" stroke="#000" stroke-width="2"/>
<rect x="777.9" y="1003.89" width="24.100000000000023" height="30.49" fill="#224544" stroke="#000" stroke-width="2"/>
<rect x="777.9" y="973.40" width="24.100000000000023" height="30.49" fill="#263a4b" stroke="#000" stroke-width="2"/>
<polygon points="777.9,973.4 802.0,973.4 789.95,943.5" fill="#2a3253" stroke="#000" stroke-width="2" stroke-linejoin="round"/>
<polygon points="777.9,1552.8 802.0,1552.8 789.95,1582.7" fill="#fff" stroke="#000" stroke-width="2" stroke-linejoin="round"/>
<text x="807.6" y="1565.00" font-size="33.5" text-anchor="start" fill="#000" >0.1</text>
<text x="807.6" y="1443.02" font-size="33.5" text-anchor="start" fill="#000" >0.5</text>
<text x="807.6" y="1321.04" font-size="33.5" text-anchor="start" fill="#000" >0.9</text>
<text x="807.6" y="1199.06" font-size="33.5" text-anchor="start" fill="#000" >1.3</text>
<text x="807.6" y="1077.08" font-size="33.5" text-anchor="start" fill="#000" >1.7</text>
<text transform="translate(887.6,1264.1) rotate(-90)" font-size="33.5" text-anchor="middle">probability (%)</text>
<circle cx="156.5" cy="1456.7" r="13.5" fill="#f00"/>
<text x="175.6" y="1462.8" font-size="22.3" text-anchor="start" fill="#000" >Ramp-up</text>
<circle cx="156.5" cy="1500" r="13.5" fill="#00f"/>
<text x="175.6" y="1506.1" font-size="22.3" text-anchor="start" fill="#000" >Ramp-down</text>
<circle cx="156.5" cy="1543.2" r="13.5" fill="#000"/>
<text x="175.6" y="1549.3" font-size="22.3" text-anchor="start" fill="#000" >Present-day</text>
<clipPath id="cb"><rect x="1102.9" y="44.7" width="649.1" height="647"/></clipPath>
<g clip-path="url(#cb)">
<line x1="1140" y1="701.2" x2="1760" y2="138.9" stroke="#505050" stroke-width="5"/>
</g>
<circle cx="1254.6" cy="601.2" r="10.05" fill="none" stroke="#a020f0" stroke-width="3.3"/>
<circle cx="1265.7" cy="597.1" r="10.05" fill="none" stroke="#a020f0" stroke-width="3.3"/>
<circle cx="1278.4" cy="594.7" r="10.05" fill="none" stroke="#a020f0" stroke-width="3.3"/>
<circle cx="1289.6" cy="609.1" r="10.05" fill="none" stroke="#a020f0" stroke-width="3.3"/>
<circle cx="1299.0" cy="600.1" r="10.05" fill="none" stroke="#a020f0" stroke-width="3.3"/>
<circle cx="1295.0" cy="573.4" r="10.05" fill="none" stroke="#a020f0" stroke-width="3.3"/>
<circle cx="1311.1" cy="567.6" r="10.05" fill="none" stroke="#a020f0" stroke-width="3.3"/>
<circle cx="1322.5" cy="547.3" r="10.05" fill="none" stroke="#a020f0" stroke-width="3.3"/>
<circle cx="1329.1" cy="536.4" r="10.05" fill="none" stroke="#a020f0" stroke-width="3.3"/>
<circle cx="1339.1" cy="542.7" r="10.05" fill="none" stroke="#a020f0" stroke-width="3.3"/>
<circle cx="1317.7" cy="502.0" r="10.05" fill="none" stroke="#a020f0" stroke-width="3.3"/>
<circle cx="1331.0" cy="495.4" r="10.05" fill="none" stroke="#a020f0" stroke-width="3.3"/>
<circle cx="1384.0" cy="514.8" r="10.05" fill="none" stroke="#a020f0" stroke-width="3.3"/>
<circle cx="1427.0" cy="500.2" r="10.05" fill="none" stroke="#a020f0" stroke-width="3.3"/>
<circle cx="1362.7" cy="442.0" r="10.05" fill="none" stroke="#a020f0" stroke-width="3.3"/>
<circle cx="1385.4" cy="437.8" r="10.05" fill="none" stroke="#a020f0" stroke-width="3.3"/>
<circle cx="1395.1" cy="482.1" r="10.05" fill="none" stroke="#a020f0" stroke-width="3.3"/>
<circle cx="1403.4" cy="485.6" r="10.05" fill="none" stroke="#a020f0" stroke-width="3.3"/>
<circle cx="1398.8" cy="472.7" r="10.05" fill="none" stroke="#a020f0" stroke-width="3.3"/>
<circle cx="1401.0" cy="466.8" r="10.05" fill="none" stroke="#a020f0" stroke-width="3.3"/>
<circle cx="1389.0" cy="452.0" r="10.05" fill="none" stroke="#a020f0" stroke-width="3.3"/>
<circle cx="1443.2" cy="463.6" r="10.05" fill="none" stroke="#a020f0" stroke-width="3.3"/>
<circle cx="1447.0" cy="450.5" r="10.05" fill="none" stroke="#a020f0" stroke-width="3.3"/>
<circle cx="1454.4" cy="371.9" r="10.05" fill="none" stroke="#a020f0" stroke-width="3.3"/>
<circle cx="1452.0" cy="437.0" r="10.05" fill="none" stroke="#a020f0" stroke-width="3.3"/>
<circle cx="1349.9" cy="474.0" r="14.0" fill="#2f6ea0" stroke="#000" stroke-width="2"/>
<circle cx="1377.5" cy="471.5" r="14.0" fill="#5fa3cb" stroke="#000" stroke-width="2"/>
<circle cx="1370.0" cy="480.8" r="14.0" fill="#5fa3cb" stroke="#000" stroke-width="2"/>
<circle cx="1374.1" cy="464.4" r="14.0" fill="#a8cee2" stroke="#000" stroke-width="2"/>
<circle cx="1350.1" cy="508.9" r="14.0" fill="#08306b" stroke="#000" stroke-width="2"/>
<circle cx="1423.6" cy="469.6" r="14.0" fill="#08306b" stroke="#000" stroke-width="2"/>
<circle cx="1441.3" cy="455.2" r="14.0" fill="#a8cee2" stroke="#000" stroke-width="2"/>
<circle cx="1421.8" cy="435.0" r="14.0" fill="#a8cee2" stroke="#000" stroke-width="2"/>
<circle cx="1400.9" cy="431.5" r="14.0" fill="#f5f7f6" stroke="#000" stroke-width="2"/>
<circle cx="1409.1" cy="447.3" r="14.0" fill="#f5f7f6" stroke="#000" stroke-width="2"/>
<circle cx="1424.9" cy="402.0" r="14.0" fill="#a8cee2" stroke="#000" stroke-width="2"/>
<circle cx="1446.8" cy="413.7" r="14.0" fill="#f5f7f6" stroke="#000" stroke-width="2"/>
<circle cx="1420.9" cy="410.2" r="14.0" fill="#f5f7f6" stroke="#000" stroke-width="2"/>
<circle cx="1448.2" cy="391.1" r="14.0" fill="#f5f7f6" stroke="#000" stroke-width="2"/>
<circle cx="1438.6" cy="423.0" r="14.0" fill="#eebbb1" stroke="#000" stroke-width="2"/>
<circle cx="1464.0" cy="434.2" r="14.0" fill="#5fa3cb" stroke="#000" stroke-width="2"/>
<circle cx="1473.6" cy="443.2" r="14.0" fill="#a8cee2" stroke="#000" stroke-width="2"/>
<circle cx="1488.6" cy="415.8" r="14.0" fill="#f5f7f6" stroke="#000" stroke-width="2"/>
<circle cx="1477.7" cy="401.4" r="14.0" fill="#eebbb1" stroke="#000" stroke-width="2"/>
<circle cx="1470.8" cy="409.6" r="14.0" fill="#eebbb1" stroke="#000" stroke-width="2"/>
<circle cx="1503.7" cy="393.8" r="14.0" fill="#a8cee2" stroke="#000" stroke-width="2"/>
<circle cx="1505.0" cy="382.0" r="14.0" fill="#f5f7f6" stroke="#000" stroke-width="2"/>
<circle cx="1527.7" cy="383.6" r="14.0" fill="#f5f7f6" stroke="#000" stroke-width="2"/>
<circle cx="1484.5" cy="374.7" r="14.0" fill="#f5f7f6" stroke="#000" stroke-width="2"/>
<circle cx="1511.9" cy="364.4" r="14.0" fill="#a8cee2" stroke="#000" stroke-width="2"/>
<circle cx="1510.5" cy="377.4" r="14.0" fill="#f5f7f6" stroke="#000" stroke-width="2"/>
<circle cx="1473.6" cy="367.1" r="14.0" fill="#a8cee2" stroke="#000" stroke-width="2"/>
<circle cx="1478.4" cy="368.5" r="14.0" fill="#eebbb1" stroke="#000" stroke-width="2"/>
<circle cx="1495.5" cy="341.8" r="14.0" fill="#a8cee2" stroke="#000" stroke-width="2"/>
<circle cx="1520.8" cy="343.8" r="14.0" fill="#f5f7f6" stroke="#000" stroke-width="2"/>
<circle cx="1500.0" cy="357.5" r="14.0" fill="#b2403b" stroke="#000" stroke-width="2"/>
<circle cx="1504.4" cy="344.1" r="14.0" fill="#b2403b" stroke="#000" stroke-width="2"/>
<circle cx="1473.2" cy="332.5" r="14.0" fill="#b2403b" stroke="#000" stroke-width="2"/>
<circle cx="1560.8" cy="354.1" r="14.0" fill="#f5f7f6" stroke="#000" stroke-width="2"/>
<circle cx="1550.3" cy="336.3" r="14.0" fill="#eebbb1" stroke="#000" stroke-width="2"/>
<circle cx="1546.2" cy="322.6" r="14.0" fill="#eebbb1" stroke="#000" stroke-width="2"/>
<circle cx="1609.0" cy="293.8" r="14.0" fill="#eebbb1" stroke="#000" stroke-width="2"/>
<circle cx="1607.1" cy="312.8" r="14.0" fill="#b2403b" stroke="#000" stroke-width="2"/>
<circle cx="1588.0" cy="295.5" r="14.0" fill="#6a0a20" stroke="#000" stroke-width="2"/>
<circle cx="1572.3" cy="254.5" r="14.0" fill="#6a0a20" stroke="#000" stroke-width="2"/>
<circle cx="1628.5" cy="256.3" r="14.0" fill="#b2403b" stroke="#000" stroke-width="2"/>
<polygon points="1203.3,91.0 1203.3,119.9 1139.8,105.45" fill="#08306b" stroke="#000" stroke-width="2" stroke-linejoin="round"/>
<rect x="1203.30" y="91.0" width="63.75" height="28.90" fill="#2f6ea0" stroke="#000" stroke-width="2"/>
<rect x="1267.05" y="91.0" width="63.75" height="28.90" fill="#5fa3cb" stroke="#000" stroke-width="2"/>
<rect x="1330.80" y="91.0" width="63.75" height="28.90" fill="#a8cee2" stroke="#000" stroke-width="2"/>
<rect x="1394.55" y="91.0" width="63.75" height="28.90" fill="#f5f7f6" stroke="#000" stroke-width="2"/>
<rect x="1458.30" y="91.0" width="63.75" height="28.90" fill="#eebbb1" stroke="#000" stroke-width="2"/>
<rect x="1522.05" y="91.0" width="63.75" height="28.90" fill="#dc7d6a" stroke="#000" stroke-width="2"/>
<rect x="1585.80" y="91.0" width="63.75" height="28.90" fill="#b2403b" stroke="#000" stroke-width="2"/>
<polygon points="1649.55,91.0 1649.55,119.9 1713.05,105.45" fill="#6a0a20" stroke="#000" stroke-width="2" stroke-linejoin="round"/>
<text x="1171.55" y="152.4" font-size="33.9" text-anchor="middle" fill="#000" >27.5</text>
<text x="1298.92" y="152.4" font-size="33.9" text-anchor="middle" fill="#000" >27.7</text>
<text x="1426.42" y="152.4" font-size="33.9" text-anchor="middle" fill="#000" >27.9</text>
<text x="1553.92" y="152.4" font-size="33.9" text-anchor="middle" fill="#000" >28.1</text>
<text x="1681.42" y="152.4" font-size="33.9" text-anchor="middle" fill="#000" >28.3</text>
<text x="1426.3" y="82.2" font-size="33.5" text-anchor="middle" fill="#000" >SST threshold for convection [<tspan font-size="22" dy="-15.4">o</tspan><tspan dy="15.4" font-size="33.5">C]</tspan></text>
<rect x="1102.7" y="44.8" width="647.3" height="647.0" fill="none" stroke="#000" stroke-width="4.2"/>
<line x1="1224.2" y1="691.8" x2="1224.2" y2="707.8" stroke="#000" stroke-width="4.2" stroke-linecap="round"/>
<line x1="1386.1" y1="691.8" x2="1386.1" y2="707.8" stroke="#000" stroke-width="4.2" stroke-linecap="round"/>
<line x1="1547.9" y1="691.8" x2="1547.9" y2="707.8" stroke="#000" stroke-width="4.2" stroke-linecap="round"/>
<line x1="1709.7" y1="691.8" x2="1709.7" y2="707.8" stroke="#000" stroke-width="4.2" stroke-linecap="round"/>
<line x1="1143.3" y1="691.8" x2="1143.3" y2="700.4" stroke="#000" stroke-width="1.9" stroke-linecap="round"/>
<line x1="1305.1" y1="691.8" x2="1305.1" y2="700.4" stroke="#000" stroke-width="1.9" stroke-linecap="round"/>
<line x1="1467.0" y1="691.8" x2="1467.0" y2="700.4" stroke="#000" stroke-width="1.9" stroke-linecap="round"/>
<line x1="1628.8" y1="691.8" x2="1628.8" y2="700.4" stroke="#000" stroke-width="1.9" stroke-linecap="round"/>
<text x="1224.2" y="756.4" font-size="33.2" text-anchor="middle" fill="#000" >-33</text>
<text x="1386.1" y="756.4" font-size="33.2" text-anchor="middle" fill="#000" >-32</text>
<text x="1547.9" y="756.4" font-size="33.2" text-anchor="middle" fill="#000" >-31</text>
<text x="1709.7" y="756.4" font-size="33.2" text-anchor="middle" fill="#000" >-30</text>
<line x1="1102.7" y1="130.5" x2="1087.5" y2="130.5" stroke="#000" stroke-width="4.2" stroke-linecap="round"/>
<line x1="1102.7" y1="475.8" x2="1087.5" y2="475.8" stroke="#000" stroke-width="4.2" stroke-linecap="round"/>
<line x1="1102.7" y1="303.2" x2="1094.6000000000001" y2="303.2" stroke="#000" stroke-width="1.9" stroke-linecap="round"/>
<line x1="1102.7" y1="648.4" x2="1094.6000000000001" y2="648.4" stroke="#000" stroke-width="1.9" stroke-linecap="round"/>
<text x="1062.4" y="142.3" font-size="33.2" text-anchor="end" fill="#000" >28</text>
<text x="1062.4" y="487.6" font-size="33.2" text-anchor="end" fill="#000" >27</text>
<text x="1099.6" y="24.5" font-size="33.5" text-anchor="start" fill="#000" >b) observation [1979-2022]</text>
<text x="1427" y="803.2" font-size="33.5" text-anchor="middle" fill="#000" >Tropcial mean 300hPa temperature (<tspan font-size="22" dy="-15.4">o</tspan><tspan dy="15.4" font-size="33.5">C)</tspan></text>
<text transform="translate(1002.3,368) rotate(-90)" font-size="33.5" text-anchor="middle">Tropcial mean SST (<tspan font-size="22" dy="-15.4">o</tspan><tspan dy="15.4" font-size="33.5">C)</tspan></text>
<circle cx="1145.7" cy="260.5" r="10.1" fill="none" stroke="#a020f0" stroke-width="3.4"/>
<circle cx="1145.7" cy="303.7" r="11.8" fill="#a020f0"/>
<text x="1164.8" y="268.4" font-size="22.3" text-anchor="start" fill="#000" >1950-1978</text>
<text x="1164.8" y="311.6" font-size="22.3" text-anchor="start" fill="#000" >1979-2022</text>
<text x="1735.2" y="574.6" font-size="33.5" text-anchor="end" fill="#000" >Corre. coeff. =&#160; 0.94</text>
<text x="1735.2" y="619.6" font-size="33.5" text-anchor="end" fill="#000" >Slope =&#160; 0.43</text>
<text x="1735.2" y="674.6" font-size="33.5" text-anchor="end" fill="#000" >P= 4.81 x10<tspan font-size="19.5" dy="-16.4">-36</tspan><tspan dy="16.4" font-size="33.5"></tspan></text>
<circle cx="1167.5" cy="1477.5" r="13.9" fill="#1f4f82" stroke="#f00" stroke-width="2.2"/>
<circle cx="1187.5" cy="1473.8" r="13.9" fill="#1f4f82" stroke="#f00" stroke-width="2.2"/>
<circle cx="1196.3" cy="1455.0" r="13.9" fill="#2e6a9e" stroke="#f00" stroke-width="2.2"/>
<circle cx="1205.0" cy="1450.0" r="13.9" fill="#2e6a9e" stroke="#f00" stroke-width="2.2"/>
<circle cx="1225.0" cy="1448.8" r="13.9" fill="#2e6a9e" stroke="#f00" stroke-width="2.2"/>
<circle cx="1210.0" cy="1454.3" r="13.9" fill="#2e6a9e" stroke="#f00" stroke-width="2.2"/>
<circle cx="1230.0" cy="1430.0" r="13.9" fill="#3e84b7" stroke="#f00" stroke-width="2.2"/>
<circle cx="1242.5" cy="1421.3" r="13.9" fill="#3e84b7" stroke="#f00" stroke-width="2.2"/>
<circle cx="1236.3" cy="1437.0" r="13.9" fill="#3e84b7" stroke="#f00" stroke-width="2.2"/>
<circle cx="1263.8" cy="1403.8" r="13.9" fill="#559bc8" stroke="#f00" stroke-width="2.2"/>
<circle cx="1276.3" cy="1398.8" r="13.9" fill="#559bc8" stroke="#f00" stroke-width="2.2"/>
<circle cx="1256.8" cy="1419.3" r="13.9" fill="#559bc8" stroke="#f00" stroke-width="2.2"/>
<circle cx="1296.3" cy="1385.0" r="13.9" fill="#7aafd1" stroke="#f00" stroke-width="2.2"/>
<circle cx="1284.5" cy="1405.0" r="13.9" fill="#7aafd1" stroke="#f00" stroke-width="2.2"/>
<circle cx="1320.0" cy="1363.8" r="13.9" fill="#9cc3de" stroke="#f00" stroke-width="2.2"/>
<circle cx="1328.8" cy="1371.3" r="13.9" fill="#9cc3de" stroke="#f00" stroke-width="2.2"/>
<circle cx="1321.3" cy="1372.3" r="13.9" fill="#9cc3de" stroke="#f00" stroke-width="2.2"/>
<circle cx="1311.3" cy="1386.3" r="13.9" fill="#7aafd1" stroke="#f00" stroke-width="2.2"/>
<circle cx="1342.5" cy="1347.0" r="13.9" fill="#9cc3de" stroke="#f00" stroke-width="2.2"/>
<circle cx="1347.5" cy="1353.0" r="13.9" fill="#bed8e9" stroke="#f00" stroke-width="2.2"/>
<circle cx="1352.5" cy="1353.8" r="13.9" fill="#bed8e9" stroke="#f00" stroke-width="2.2"/>
<circle cx="1390.8" cy="1317.5" r="13.9" fill="#e3ecf3" stroke="#f00" stroke-width="2.2"/>
<circle cx="1378.8" cy="1331.3" r="13.9" fill="#bed8e9" stroke="#f00" stroke-width="2.2"/>
<circle cx="1370.0" cy="1335.0" r="13.9" fill="#bed8e9" stroke="#f00" stroke-width="2.2"/>
<circle cx="1425.0" cy="1296.3" r="13.9" fill="#f6e9e6" stroke="#f00" stroke-width="2.2"/>
<circle cx="1408.8" cy="1301.0" r="13.9" fill="#f6e9e6" stroke="#f00" stroke-width="2.2"/>
<circle cx="1413.8" cy="1305.0" r="13.9" fill="#f6e9e6" stroke="#f00" stroke-width="2.2"/>
<circle cx="1440.3" cy="1261.3" r="13.9" fill="#f0cfc9" stroke="#00f" stroke-width="2.2"/>
<circle cx="1436.8" cy="1252.5" r="13.9" fill="#e9aea4" stroke="#00f" stroke-width="2.2"/>
<circle cx="1454.0" cy="1245.0" r="13.9" fill="#e9aea4" stroke="#00f" stroke-width="2.2"/>
<circle cx="1471.5" cy="1240.0" r="13.9" fill="#e9aea4" stroke="#00f" stroke-width="2.2"/>
<circle cx="1489.0" cy="1227.5" r="13.9" fill="#e19587" stroke="#00f" stroke-width="2.2"/>
<circle cx="1480.8" cy="1223.8" r="13.9" fill="#e19587" stroke="#00f" stroke-width="2.2"/>
<circle cx="1504.0" cy="1213.8" r="13.9" fill="#d97969" stroke="#00f" stroke-width="2.2"/>
<circle cx="1516.5" cy="1200.0" r="13.9" fill="#d97969" stroke="#00f" stroke-width="2.2"/>
<circle cx="1511.5" cy="1205.0" r="13.9" fill="#d97969" stroke="#00f" stroke-width="2.2"/>
<circle cx="1537.8" cy="1193.8" r="13.9" fill="#cb5c4d" stroke="#00f" stroke-width="2.2"/>
<circle cx="1540.3" cy="1182.5" r="13.9" fill="#cb5c4d" stroke="#00f" stroke-width="2.2"/>
<circle cx="1549.0" cy="1180.0" r="13.9" fill="#cb5c4d" stroke="#00f" stroke-width="2.2"/>
<circle cx="1559.0" cy="1175.0" r="13.9" fill="#cb5c4d" stroke="#00f" stroke-width="2.2"/>
<circle cx="1566.5" cy="1167.5" r="13.9" fill="#cb5c4d" stroke="#00f" stroke-width="2.2"/>
<circle cx="1596.5" cy="1153.8" r="13.9" fill="#ab3a3b" stroke="#00f" stroke-width="2.2"/>
<circle cx="1587.8" cy="1150.0" r="13.9" fill="#ab3a3b" stroke="#00f" stroke-width="2.2"/>
<circle cx="1572.8" cy="1158.8" r="13.9" fill="#ab3a3b" stroke="#00f" stroke-width="2.2"/>
<circle cx="1610.3" cy="1145.0" r="13.9" fill="#8b202d" stroke="#00f" stroke-width="2.2"/>
<circle cx="1619.0" cy="1132.5" r="13.9" fill="#8b202d" stroke="#00f" stroke-width="2.2"/>
<circle cx="1639.0" cy="1117.5" r="13.9" fill="#6a0420" stroke="#00f" stroke-width="2.2"/>
<circle cx="1646.5" cy="1107.5" r="13.9" fill="#6a0420" stroke="#00f" stroke-width="2.2"/>
<polygon points="1179.3,985.5 1179.3,1014.4 1147.6,999.95" fill="#08306b" stroke="#000" stroke-width="2" stroke-linejoin="round"/>
<rect x="1179.30" y="985.5" width="31.85" height="28.90" fill="#1f4f82" stroke="#000" stroke-width="2"/>
<rect x="1211.15" y="985.5" width="31.85" height="28.90" fill="#2e6a9e" stroke="#000" stroke-width="2"/>
<rect x="1243.00" y="985.5" width="31.85" height="28.90" fill="#3e84b7" stroke="#000" stroke-width="2"/>
<rect x="1274.85" y="985.5" width="31.85" height="28.90" fill="#559bc8" stroke="#000" stroke-width="2"/>
<rect x="1306.70" y="985.5" width="31.85" height="28.90" fill="#7aafd1" stroke="#000" stroke-width="2"/>
<rect x="1338.55" y="985.5" width="31.85" height="28.90" fill="#9cc3de" stroke="#000" stroke-width="2"/>
<rect x="1370.40" y="985.5" width="31.85" height="28.90" fill="#bed8e9" stroke="#000" stroke-width="2"/>
<rect x="1402.25" y="985.5" width="31.85" height="28.90" fill="#e3ecf3" stroke="#000" stroke-width="2"/>
<rect x="1434.10" y="985.5" width="31.85" height="28.90" fill="#f6e9e6" stroke="#000" stroke-width="2"/>
<rect x="1465.95" y="985.5" width="31.85" height="28.90" fill="#f0cfc9" stroke="#000" stroke-width="2"/>
<rect x="1497.80" y="985.5" width="31.85" height="28.90" fill="#e9aea4" stroke="#000" stroke-width="2"/>
<rect x="1529.65" y="985.5" width="31.85" height="28.90" fill="#e19587" stroke="#000" stroke-width="2"/>
<rect x="1561.50" y="985.5" width="31.85" height="28.90" fill="#d97969" stroke="#000" stroke-width="2"/>
<rect x="1593.35" y="985.5" width="31.85" height="28.90" fill="#cb5c4d" stroke="#000" stroke-width="2"/>
<rect x="1625.20" y="985.5" width="31.85" height="28.90" fill="#ab3a3b" stroke="#000" stroke-width="2"/>
<rect x="1657.05" y="985.5" width="31.85" height="28.90" fill="#8b202d" stroke="#000" stroke-width="2"/>
<polygon points="1688.90,985.5 1688.90,1014.4 1720.60,999.95" fill="#6a0420" stroke="#000" stroke-width="2" stroke-linejoin="round"/>
<text x="1163.45" y="1046.9" font-size="33.9" text-anchor="middle" fill="#000" >28.8</text>
<text x="1290.77" y="1046.9" font-size="33.9" text-anchor="middle" fill="#000" >29.2</text>
<text x="1418.17" y="1046.9" font-size="33.9" text-anchor="middle" fill="#000" >29.6</text>
<text x="1545.58" y="1046.9" font-size="33.9" text-anchor="middle" fill="#000" >30</text>
<text x="1672.97" y="1046.9" font-size="33.9" text-anchor="middle" fill="#000" >30.4</text>
<text x="1426.3" y="976.7" font-size="33.5" text-anchor="middle" fill="#000" >SST threshold for convection [<tspan font-size="22" dy="-15.4">o</tspan><tspan dy="15.4" font-size="33.5">C]</tspan></text>
<rect x="1102.7" y="939.3" width="647.3" height="647.0" fill="none" stroke="#000" stroke-width="4.2"/>
<line x1="1272.6" y1="1586.3" x2="1272.6" y2="1603.6" stroke="#000" stroke-width="4.2" stroke-linecap="round"/>
<line x1="1545.2" y1="1586.3" x2="1545.2" y2="1603.6" stroke="#000" stroke-width="4.2" stroke-linecap="round"/>
<line x1="1136.5" y1="1586.3" x2="1136.5" y2="1594.8999999999999" stroke="#000" stroke-width="1.9" stroke-linecap="round"/>
<line x1="1409.0" y1="1586.3" x2="1409.0" y2="1594.8999999999999" stroke="#000" stroke-width="1.9" stroke-linecap="round"/>
<line x1="1681.5" y1="1586.3" x2="1681.5" y2="1594.8999999999999" stroke="#000" stroke-width="1.9" stroke-linecap="round"/>
<text x="1272.6" y="1652.1" font-size="33.2" text-anchor="middle" fill="#000" >-28</text>
<text x="1545.2" y="1652.1" font-size="33.2" text-anchor="middle" fill="#000" >-26</text>
<line x1="1102.7" y1="992.5" x2="1085.8" y2="992.5" stroke="#000" stroke-width="4.2" stroke-linecap="round"/>
<line x1="1102.7" y1="1208.8" x2="1085.8" y2="1208.8" stroke="#000" stroke-width="4.2" stroke-linecap="round"/>
<line x1="1102.7" y1="1425.0" x2="1085.8" y2="1425.0" stroke="#000" stroke-width="4.2" stroke-linecap="round"/>
<line x1="1102.7" y1="1100.7" x2="1094.6000000000001" y2="1100.7" stroke="#000" stroke-width="1.9" stroke-linecap="round"/>
<line x1="1102.7" y1="1316.9" x2="1094.6000000000001" y2="1316.9" stroke="#000" stroke-width="1.9" stroke-linecap="round"/>
<line x1="1102.7" y1="1533.1" x2="1094.6000000000001" y2="1533.1" stroke="#000" stroke-width="1.9" stroke-linecap="round"/>
<text x="1062.4" y="1004.3" font-size="33.2" text-anchor="end" fill="#000" >31</text>
<text x="1062.4" y="1220.6" font-size="33.2" text-anchor="end" fill="#000" >30</text>
<text x="1062.4" y="1436.8" font-size="33.2" text-anchor="end" fill="#000" >29</text>
<text x="1101.0" y="919.3" font-size="33.5" text-anchor="start" fill="#000" >d) CESM</text>
<text x="1427" y="1698.9" font-size="33.5" text-anchor="middle" fill="#000" >Tropcial mean 300hPa temperature (<tspan font-size="22" dy="-15.4">o</tspan><tspan dy="15.4" font-size="33.5">C)</tspan></text>
<text transform="translate(1002.3,1262.5) rotate(-90)" font-size="33.5" text-anchor="middle">Tropcial mean SST (<tspan font-size="22" dy="-15.4">o</tspan><tspan dy="15.4" font-size="33.5">C)</tspan></text>
<circle cx="1145.7" cy="1111.3" r="10.3" fill="none" stroke="#f00" stroke-width="4.3"/>
<circle cx="1145.7" cy="1154.5" r="10.3" fill="none" stroke="#00f" stroke-width="4.3"/>
<text x="1164.8" y="1117.2" font-size="22.3" text-anchor="start" fill="#000" >Ramp-up</text>
<text x="1164.8" y="1160.3" font-size="22.3" text-anchor="start" fill="#000" >Ramp-down</text>
<text x="1552.2" y="1468.3" font-size="33.5" text-anchor="end" fill="#000" >Corre. coeff. =</text>
<text x="1552.2" y="1515.7" font-size="33.5" text-anchor="end" fill="#000" >Slope =</text>
<text x="1622.2" y="1468.3" font-size="33.5" text-anchor="end" fill="#f00" >1.00</text>
<text x="1622.2" y="1515.7" font-size="33.5" text-anchor="end" fill="#f00" >0.45</text>
<text x="1719.8" y="1468.3" font-size="33.5" text-anchor="end" fill="#00f" >1.00</text>
<text x="1719.8" y="1515.7" font-size="33.5" text-anchor="end" fill="#00f" >0.44</text>
<text x="1687.6" y="1417.7" font-size="33.5" text-anchor="end" fill="#f00" >Ramp-up</text>
<text x="1719.8" y="1563.2" font-size="33.5" text-anchor="end" fill="#00f" >Ramp-down</text>
</svg>
</body>
</html>
